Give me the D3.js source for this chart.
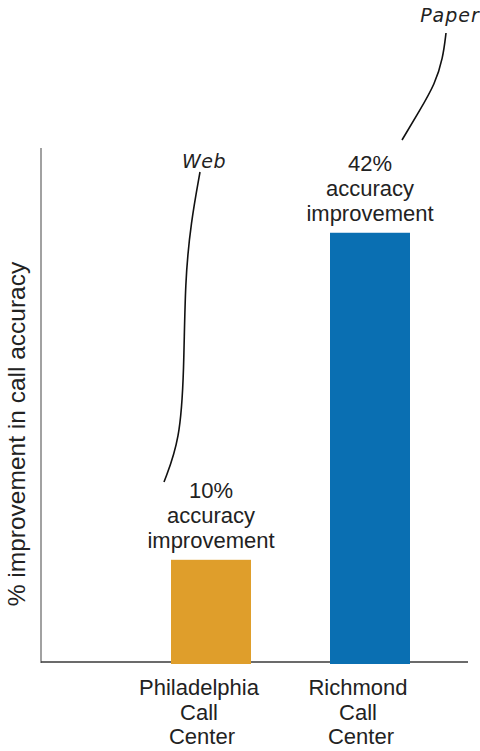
<!DOCTYPE html>
<html>
<head>
<meta charset="utf-8">
<script src="https://cdn.jsdelivr.net/npm/d3@7"></script>
<style>
  body { margin: 0; background: #fff; }
  svg { display: block; font-family: "Liberation Sans", Arial, sans-serif; }
</style>
</head>
<body>
<svg id="chart" width="480" height="751"></svg>
<script>
// data
const centers = [["Philadelphia", "Call", "Center"], ["Richmond", "Call", "Center"]]
const values = [10, 42]
const barLabels = [["10%", "accuracy", "improvement"], ["42%", "accuracy", "improvement"]]
const notes = ["Web", "Paper"]
const colors = ["#DF9E2B", "#0A6FB2"]

const width = 480
const height = 751
const margin = { left: 41, right: 12, top: 148, bottom: 89 }
const baseY = height - margin.bottom   // 662

const svg = d3.select('#chart')

// scales
const x = d3.scaleLinear().domain([0, 1]).range([211, 370])
const bw = 80

const yScale = d3.scaleLinear()
  .domain([0, 50])
  .range([baseY, baseY - 511])

// axes lines
svg.append('line')
  .attr('x1', margin.left).attr('x2', margin.left)
  .attr('y1', margin.top).attr('y2', baseY + 1)
  .attr('stroke', '#8a8a8a').attr('stroke-width', 1.6)

svg.append('line')
  .attr('x1', margin.left).attr('x2', 468)
  .attr('y1', baseY).attr('y2', baseY)
  .attr('stroke', '#3a3a3a').attr('stroke-width', 1.6)

// bars
svg.selectAll('.bar').data(values).enter().append('rect')
  .attr('class', 'bar')
  .attr('x', (d, i) => x(i) - bw / 2)
  .attr('width', bw)
  .attr('y', d => yScale(d))
  .attr('height', d => baseY - yScale(d) + 2)
  .attr('fill', (d, i) => colors[i])

// value labels above bars
values.forEach((v, i) => {
  const t = svg.append('text')
    .attr('text-anchor', 'middle')
    .attr('font-size', 22)
    .attr('fill', '#222')
  barLabels[i].forEach((line, j) => {
    t.append('tspan')
      .attr('x', x(i))
      .attr('y', yScale(v) - 62 + j * 25)
      .text(line)
  })
})

// category labels
centers.forEach((c, i) => {
  const t = svg.append('text')
    .attr('text-anchor', 'middle')
    .attr('font-size', 22)
    .attr('fill', '#222')
  c.forEach((line, j) => {
    t.append('tspan')
      .attr('x', x(i) - 12 + (j == 2 ? 3 : 0))
      .attr('y', 695 + j * 24.5)
      .text(line)
  })
})

// y axis title
svg.append('text')
  .attr('transform', `translate(25, 434) rotate(-90)`)
  .attr('text-anchor', 'middle')
  .attr('font-size', 24.5)
  .attr('fill', '#222')
  .text('% improvement in call accuracy')

// handwritten notes
const line = d3.line().curve(d3.curveBasis)
const webPath = [[200, 172], [191, 222], [185, 280], [184, 372], [180, 440], [164, 482]]
const paperPath = [[446, 33], [443, 58], [435, 84], [420, 110], [402, 140]]

svg.append('path').attr('d', line(webPath))
  .attr('fill', 'none').attr('stroke', '#111').attr('stroke-width', 1.6)
svg.append('path').attr('d', line(paperPath))
  .attr('fill', 'none').attr('stroke', '#111').attr('stroke-width', 1.6)

svg.append('text')
  .attr('x', 204).attr('y', 168)
  .attr('text-anchor', 'middle')
  .attr('font-family', '"DejaVu Sans", sans-serif')
  .attr('font-style', 'italic')
  .attr('font-size', 19)
  .attr('letter-spacing', 0.5)
  .attr('fill', '#222')
  .text(notes[0])

svg.append('text')
  .attr('x', 450).attr('y', 22)
  .attr('text-anchor', 'middle')
  .attr('font-family', '"DejaVu Sans", sans-serif')
  .attr('font-style', 'italic')
  .attr('font-size', 19)
  .attr('letter-spacing', 1)
  .attr('fill', '#222')
  .text(notes[1])
</script>
</body>
</html>
